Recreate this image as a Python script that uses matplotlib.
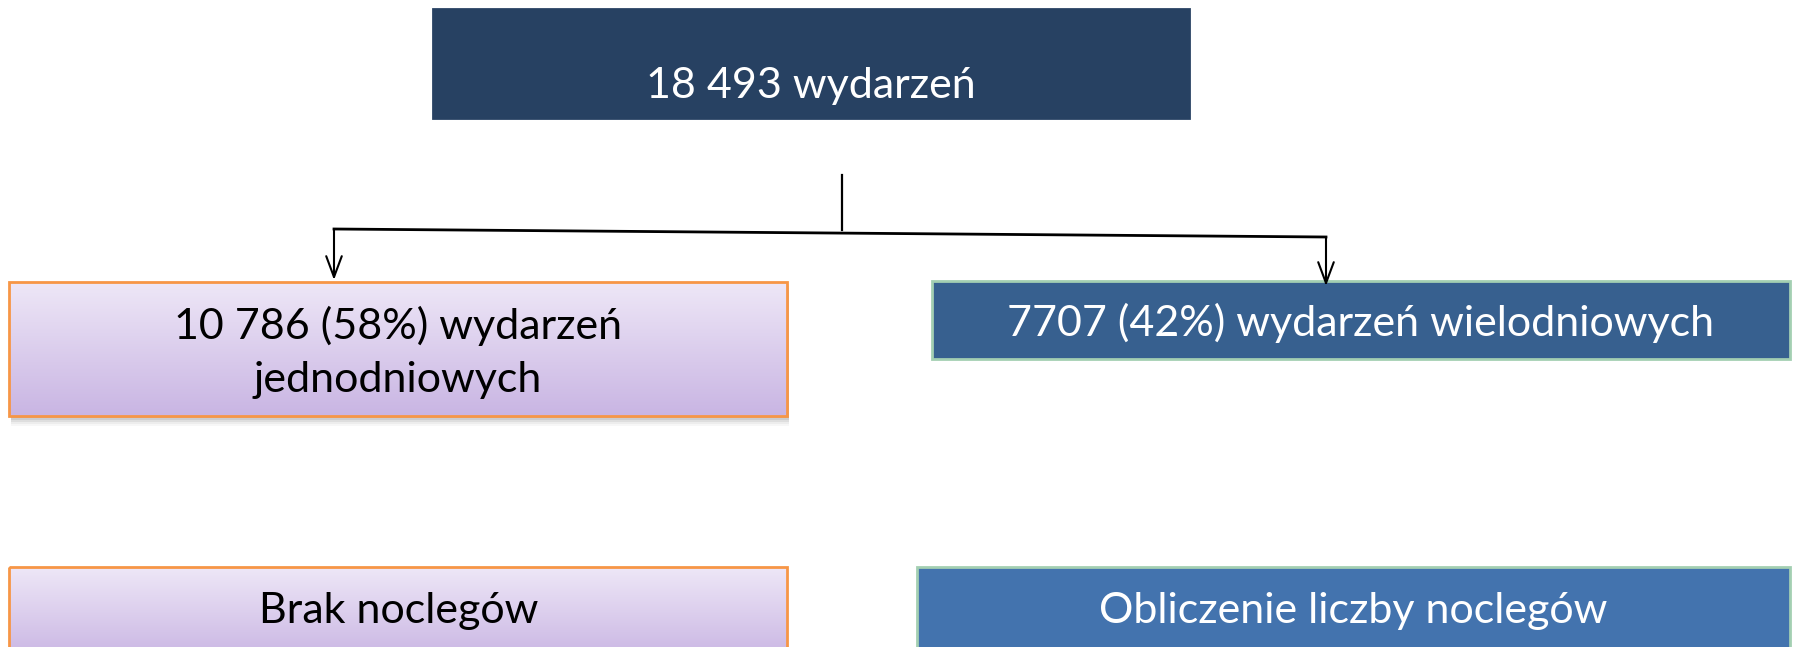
import matplotlib
matplotlib.use('Agg')
import matplotlib.pyplot as plt
import numpy as np
from matplotlib.patches import Rectangle, FancyArrowPatch
from matplotlib.colors import LinearSegmentedColormap

# ---- data ----
total_events = "18 493"
counts = ["10 786", "7707"]
shares = [58, 42]
kinds = ["jednodniowych", "wielodniowych"]
outcomes = ["Brak noclegów", "Obliczenie liczby noclegów"]

# ---- figure in pixel coordinates ----
W, H = 1797, 647
fig = plt.figure(figsize=(W / 100, H / 100), dpi=100)
ax = fig.add_axes([0, 0, 1, 1])
FONT = ['Lato', 'DejaVu Sans']
FS = 31

lav = LinearSegmentedColormap.from_list('lav', ['#EEE7F7', '#C9B5E3'])


def solid_box(x0, y0, x1, y1, face, edge):
    ax.add_patch(Rectangle((x0, y0), x1 - x0, y1 - y0, facecolor=face,
                           edgecolor=edge, linewidth=2, zorder=2))


def grad_box(x0, y0, x1, y1, edge, shadow=True):
    if shadow:
        for i, a in enumerate([0.10, 0.08, 0.06, 0.04, 0.03]):
            d = 2 + i * 2
            ax.add_patch(Rectangle((x0 + 2, y0 + d), x1 - x0, y1 - y0,
                                   facecolor='black', alpha=a, linewidth=0,
                                   zorder=1))
    grad = np.linspace(0, 1, 256).reshape(-1, 1)
    ax.imshow(grad, extent=(x0, x1, y1, y0), aspect='auto', cmap=lav,
              origin='upper', zorder=2, interpolation='bilinear')
    ax.add_patch(Rectangle((x0, y0), x1 - x0, y1 - y0, facecolor='none',
                           edgecolor=edge, linewidth=2, zorder=3))


def label(x, y, s, color):
    ax.text(x, y, s, ha='center', va='baseline', fontsize=FS, color=color,
            family=FONT, zorder=4)


# top box
solid_box(433, 9, 1189, 118, '#274162', '#274162')
label(811, 98, f"{total_events} wydarzeń", 'white')

# connectors
ax.plot([842, 842], [175, 230], color='black', lw=1.6, zorder=2)
ax.plot([334, 1326], [229, 237], color='black', lw=2.0, zorder=2)
for (x, y0, y1) in [(334, 229, 280), (1326, 237, 286)]:
    ax.add_patch(FancyArrowPatch((x, y0), (x, y1),
                                 arrowstyle='->,head_length=0.75,head_width=0.28',
                                 mutation_scale=20, color='black', lw=1.5,
                                 shrinkA=0, shrinkB=0, zorder=5))

# second row
grad_box(9, 282, 787, 416, '#F79646')
label(398, 339, f"{counts[0]} ({shares[0]}%) wydarzeń", 'black')
label(398, 392, kinds[0], 'black')

solid_box(932, 281, 1790, 359, '#37608F', '#A3CFB2')
label(1361, 336, f"{counts[1]} ({shares[1]}%) wydarzeń {kinds[1]}", 'white')

# third row
grad_box(9, 567, 787, 660, '#F79646', shadow=False)
label(399, 623, outcomes[0], 'black')

solid_box(917, 567, 1790, 660, '#4373AE', '#A3CFB2')
label(1353, 623, outcomes[1], 'white')

ax.set_xlim(0, W)
ax.set_ylim(H, 0)
ax.axis('off')
fig.savefig('out.png', dpi=100, facecolor='white')
